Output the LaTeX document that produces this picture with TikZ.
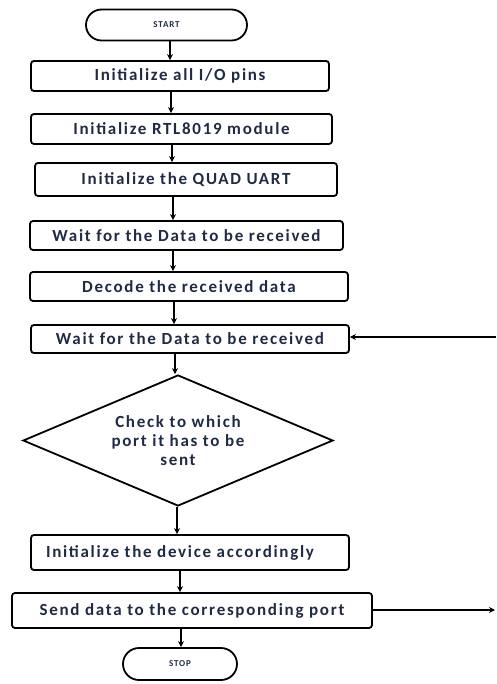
\documentclass[tikz,border=0pt]{standalone}
\usepackage{fontspec}
\setmainfont{Carlito}
\newfontfamily\boxfont[LetterSpace=10]{Carlito}
\usetikzlibrary{shapes.geometric,shapes.misc,arrows.meta}
\definecolor{txt}{HTML}{1F2A44}
\begin{document}
\begin{tikzpicture}[x=1pt,y=-1pt,
  box/.style={draw,line width=1.8pt,rounded corners=3pt,inner sep=0pt,font=\boxfont\fontsize{17}{19}\selectfont\bfseries,text=txt},
  term/.style={draw,line width=1.8pt,rounded rectangle,inner sep=0pt,font=\boxfont\fontsize{9}{10}\selectfont\bfseries,text=txt},
  dec/.style={draw,line width=1.8pt,diamond,aspect=2.37,inner sep=0pt,font=\boxfont\fontsize{17}{19}\selectfont\bfseries,text=txt},
  arr/.style={line width=1.3pt,-{Stealth[length=6pt,width=6pt]}}]
\useasboundingbox (0,0) rectangle (496,684);
\node[term,minimum width=161pt,minimum height=31pt] (start) at (166.5,25) {START};
\node[box,minimum width=298pt,minimum height=30pt] (b1) at (180,76) {Initialize all I/O pins};
\node[box,minimum width=301pt,minimum height=30pt] (b2) at (181.5,129) {Initialize RTL8019 module};
\node[box,minimum width=302pt,minimum height=33pt] (b3) at (186,179.5) {Initialize the QUAD UART};
\node[box,minimum width=313pt,minimum height=29pt] (b4) at (186.5,235.5) {Wait for the Data to be received};
\node[box,minimum width=318pt,minimum height=29pt] (b5) at (189,286.5) {Decode the received data};
\node[box,minimum width=318pt,minimum height=28pt] (b6) at (190,339) {Wait for the Data to be received};
\node[dec,minimum width=310pt,minimum height=131pt,align=center] (dia) at (178,440.5) {Check to which\\port it has to be\\sent};
\node[box,minimum width=318pt,minimum height=35pt] (b7) at (190,552.5) {\hspace*{-20pt}Initialize the device accordingly};
\node[box,minimum width=360pt,minimum height=35pt] (b8) at (192,610.5) {Send data to the corresponding port};
\node[term,minimum width=114pt,minimum height=32pt] (stop) at (180,664) {STOP};
\coordinate (c1) at (170,0);
\coordinate (c2) at (171,0);
\coordinate (c3) at (172,0);
\coordinate (c4) at (173,0);
\coordinate (c5) at (174,0);
\coordinate (c6) at (175,0);
\coordinate (c7) at (177,0);
\coordinate (c8) at (180,0);
\coordinate (c9) at (181,0);
\draw[arr] (start.south -| c1) -- (b1.north -| c1);
\draw[arr] (b1.south -| c2) -- (b2.north -| c2);
\draw[arr] (b2.south -| c3) -- (b3.north -| c3);
\draw[arr] (b3.south -| c4) -- (b4.north -| c4);
\draw[arr] (b4.south -| c4) -- (b5.north -| c4);
\draw[arr] (b5.south -| c5) -- (b6.north -| c5);
\draw[arr] (b6.south -| c6) -- (dia.north -| c6);
\draw[arr] (dia.south -| c7) -- (b7.north -| c7);
\draw[arr] (b7.south -| c8) -- (b8.north -| c8);
\draw[arr] (b8.south -| c9) -- (stop.north -| c9);
\coordinate (fb) at (496,337);
\draw[arr] (fb) -- (fb -| b6.east);
\coordinate (out) at (495,610);
\draw[arr] (b8.east |- out) -- (out);
\end{tikzpicture}
\end{document}
